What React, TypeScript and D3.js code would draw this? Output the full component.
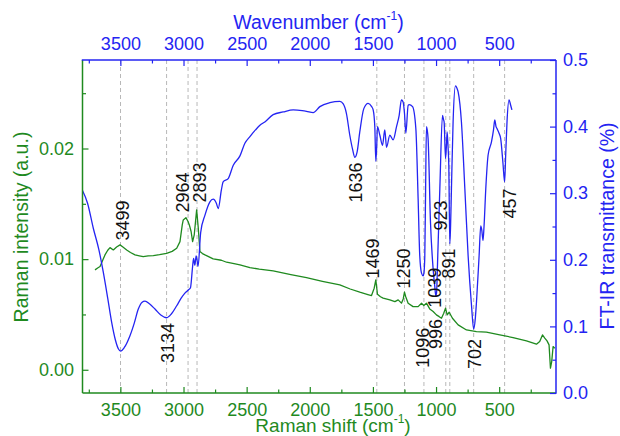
import React, { useEffect, useRef } from 'react';
import * as d3 from 'd3';

// FT-IR spectrum: [wavenumber (cm-1), transmittance]
const ftirSpectrum: [number, number][] = [
  [3800, 0.304], [3760, 0.285], [3714, 0.247], [3670, 0.215], [3635, 0.181], [3600, 0.142],
  [3569, 0.106], [3540, 0.08], [3515, 0.066], [3499, 0.063], [3470, 0.068], [3424, 0.086],
  [3390, 0.105], [3358, 0.126], [3330, 0.136], [3305, 0.138], [3270, 0.134], [3226, 0.126],
  [3180, 0.117], [3134, 0.113], [3095, 0.119], [3054, 0.131], [3020, 0.142], [2989, 0.15],
  [2960, 0.155], [2945, 0.158], [2928, 0.19], [2920, 0.202], [2910, 0.192], [2900, 0.206],
  [2893, 0.2], [2885, 0.19], [2864, 0.241], [2830, 0.267], [2791, 0.287], [2765, 0.291],
  [2740, 0.285], [2725, 0.277], [2700, 0.305], [2686, 0.317], [2646, 0.322], [2606, 0.342],
  [2553, 0.356], [2514, 0.375], [2474, 0.385], [2430, 0.395], [2395, 0.402], [2356, 0.407],
  [2290, 0.418], [2211, 0.422], [2131, 0.425], [2060, 0.424], [2026, 0.423], [1973, 0.421],
  [1920, 0.43], [1841, 0.436], [1762, 0.438], [1735, 0.434], [1710, 0.42], [1683, 0.387],
  [1660, 0.365], [1643, 0.354], [1625, 0.362], [1604, 0.392], [1572, 0.427], [1538, 0.435],
  [1510, 0.43], [1498, 0.425], [1485, 0.4], [1477, 0.348], [1470, 0.37], [1464, 0.4],
  [1445, 0.387], [1424, 0.372], [1406, 0.395], [1392, 0.369], [1366, 0.387], [1340, 0.38],
  [1313, 0.4], [1292, 0.417], [1274, 0.44], [1261, 0.437], [1250, 0.42], [1239, 0.39],
  [1221, 0.432], [1213, 0.433], [1186, 0.43], [1160, 0.397], [1142, 0.292], [1129, 0.206],
  [1115, 0.18], [1102, 0.176], [1096, 0.18], [1089, 0.206], [1083, 0.3], [1076, 0.4],
  [1070, 0.395], [1063, 0.382], [1044, 0.256], [1023, 0.186], [1010, 0.16], [1002, 0.146],
  [996, 0.15], [988, 0.196], [970, 0.307], [949, 0.417], [940, 0.41], [936, 0.407],
  [925, 0.352], [918, 0.37], [912, 0.392], [905, 0.37], [899, 0.342], [891, 0.224],
  [885, 0.25], [878, 0.307], [865, 0.407], [846, 0.461], [835, 0.458], [825, 0.452],
  [799, 0.407], [772, 0.307], [746, 0.206], [719, 0.131], [702, 0.096], [690, 0.11],
  [680, 0.136], [659, 0.206], [646, 0.251], [638, 0.245], [628, 0.229], [620, 0.25],
  [606, 0.307], [588, 0.357], [561, 0.377], [545, 0.395], [535, 0.41], [525, 0.4],
  [517, 0.397], [501, 0.39], [488, 0.382], [470, 0.345], [457, 0.317], [448, 0.36],
  [438, 0.407], [422, 0.44], [409, 0.432], [399, 0.425],
];

// Raman spectrum: [Raman shift (cm-1), intensity (a.u.)]
const ramanSpectrum: [number, number][] = [
  [3701, 0.00903], [3680, 0.0092], [3661, 0.00933], [3640, 0.0099], [3622, 0.01038], [3600, 0.0108],
  [3582, 0.01104], [3556, 0.01083], [3530, 0.0111], [3503, 0.01129], [3480, 0.0111], [3450, 0.01083],
  [3420, 0.0106], [3384, 0.01038], [3350, 0.0103], [3319, 0.01023], [3280, 0.0103], [3239, 0.01032],
  [3190, 0.0104], [3134, 0.01053], [3090, 0.0107], [3054, 0.01099], [3028, 0.01158], [3010, 0.0131],
  [3002, 0.01354], [2981, 0.01375], [2964, 0.0134], [2954, 0.01309], [2940, 0.0125], [2928, 0.01158],
  [2915, 0.0122], [2910, 0.01279], [2896, 0.01445], [2883, 0.01279], [2870, 0.01068], [2850, 0.0105],
  [2830, 0.01038], [2765, 0.01002], [2700, 0.0099], [2659, 0.00972], [2600, 0.0096], [2553, 0.00948],
  [2474, 0.00923], [2400, 0.0091], [2290, 0.00894], [2150, 0.0086], [2026, 0.00833], [1900, 0.008],
  [1762, 0.00767], [1680, 0.0073], [1604, 0.00701], [1540, 0.0068], [1511, 0.00671], [1490, 0.00737],
  [1477, 0.00812], [1464, 0.00683], [1440, 0.0066], [1419, 0.00647], [1366, 0.00632], [1326, 0.00616],
  [1300, 0.00632], [1274, 0.00602], [1260, 0.0064], [1250, 0.00701], [1240, 0.0066], [1221, 0.00602],
  [1182, 0.00571], [1142, 0.00571], [1115, 0.00602], [1097, 0.0058], [1076, 0.00602], [1050, 0.0055],
  [1023, 0.00526], [997, 0.00496], [975, 0.0048], [957, 0.00466], [939, 0.00511], [925, 0.00557],
  [912, 0.00496], [896, 0.0052], [870, 0.00466], [825, 0.00406], [759, 0.0036], [680, 0.00345],
  [601, 0.0034], [495, 0.00315], [390, 0.00291], [284, 0.00261], [205, 0.00231], [179, 0.00255],
  [157, 0.00315], [139, 0.00286], [121, 0.00261], [105, 0.00225], [94, 0.00014], [84, 0.00074],
  [73, 0.0021], [60, 0.00195],
];

const peakPositions = [3499, 3134, 2964, 2893, 1636, 1469, 1250, 1096, 1039, 996, 923, 891, 702, 457];
const peakNames = ['3499', '3134', '2964', '2893', '1636', '1469', '1250', '1096', '1039', '996', '923', '891', '702', '457'];
// where each label starts, in transmittance units
const peakLabelLevels = [0.229, 0.045, 0.271, 0.286, 0.286, 0.172, 0.157, 0.038, 0.128, 0.066, 0.244, 0.172, 0.036, 0.262];
const guidePositions = [3499, 3134, 2964, 2893, 1469, 1250, 1096, 923, 891, 702, 457];

const wavenumberTicks = [3500, 3000, 2500, 2000, 1500, 1000, 500];
const wavenumberMinorTicks = [3750, 3250, 2750, 2250, 1750, 1250, 750, 250];
const ramanTicks = [0, 0.01, 0.02];
const ramanMinorTicks = [0.005, 0.015, 0.025];
const ftirTicks = [0, 0.1, 0.2, 0.3, 0.4, 0.5];
const ftirMinorTicks = [0.05, 0.15, 0.25, 0.35, 0.45];

const GREEN = '#1f8a1f';
const BLUE = '#2424f2';
const FONT = '"Liberation Sans", Arial, Helvetica, sans-serif';

const width = 620;
const height = 436;
const frame = { left: 82.5, right: 556, top: 60, bottom: 393 };

// small horizontal nudges so labels sit like the original (px)
const labelShift = [2, 1, -6, 2.5, 0, -4, -1, -1, 3, -1, -5.5, -1, 1, 4.5];

const App: React.FC = () => {
  const svgRef = useRef<SVGSVGElement>(null);

  const x = d3.scaleLinear().domain([3800, 50]).range([frame.left, frame.right]);
  const yRaman = d3.scaleLinear().domain([-0.0021, 0.028]).range([frame.bottom, frame.top]);
  const yFtir = d3.scaleLinear().domain([0, 0.5]).range([frame.bottom, frame.top]);

  useEffect(() => {
    if (!svgRef.current) return;
    const svg = d3.select(svgRef.current);
    svg.selectAll('g.axis').remove();

    const addAxis = (axis: d3.Axis<d3.NumberValue>, transform: string, color: string) => {
      const g = svg.append('g').attr('class', 'axis').attr('transform', transform) as any;
      g.call(axis);
      g.select('.domain').remove();
      g.selectAll('line').attr('stroke', color).attr('stroke-width', 1.2);
      g.selectAll('text').attr('fill', color).style('font-size', '18px').style('font-family', FONT);
    };

    // bottom: Raman shift
    addAxis(d3.axisBottom(x).tickValues(wavenumberTicks).tickSize(-6).tickPadding(10).tickFormat(d3.format('d')), `translate(0,${frame.bottom})`, GREEN);
    addAxis(d3.axisBottom(x).tickValues(wavenumberMinorTicks).tickSize(-3.5).tickFormat(() => ''), `translate(0,${frame.bottom})`, GREEN);
    // top: wavenumber
    addAxis(d3.axisTop(x).tickValues(wavenumberTicks).tickSize(-6).tickPadding(10).tickFormat(d3.format('d')), `translate(0,${frame.top})`, BLUE);
    addAxis(d3.axisTop(x).tickValues(wavenumberMinorTicks).tickSize(-3.5).tickFormat(() => ''), `translate(0,${frame.top})`, BLUE);
    // left: Raman intensity
    addAxis(d3.axisLeft(yRaman).tickValues(ramanTicks).tickSize(-6).tickPadding(8.5).tickFormat(d3.format('.2f')), `translate(${frame.left},0)`, GREEN);
    addAxis(d3.axisLeft(yRaman).tickValues(ramanMinorTicks).tickSize(-3.5).tickFormat(() => ''), `translate(${frame.left},0)`, GREEN);
    // right: FT-IR transmittance
    addAxis(d3.axisRight(yFtir).tickValues(ftirTicks).tickSize(-6).tickPadding(7).tickFormat(d3.format('.1f')), `translate(${frame.right},0)`, BLUE);
    addAxis(d3.axisRight(yFtir).tickValues(ftirMinorTicks).tickSize(-3.5).tickFormat(() => ''), `translate(${frame.right},0)`, BLUE);
  }, []);

  const ftirLine = d3.line<[number, number]>()
    .x(d => x(d[0]))
    .y(d => yFtir(d[1]))
    .curve(d3.curveMonotoneX);

  const ramanLine = d3.line<[number, number]>()
    .x(d => x(d[0]))
    .y(d => yRaman(d[1]));

  const withSup = (main: string, size: number) => (
    <>
      {main}
      <tspan fontSize={12} dy={-9}>-1</tspan>
      <tspan fontSize={size} dy={9}>)</tspan>
    </>
  );

  return (
    <svg
      ref={svgRef}
      width={width}
      height={height}
      style={{ position: 'absolute', left: 0, top: 0, background: '#fff', fontFamily: FONT }}
    >
      <rect width={width} height={height} fill="#fff" />

      {guidePositions.map(p => (
        <line
          key={p}
          x1={x(p)} x2={x(p)} y1={frame.top} y2={frame.bottom}
          stroke="#b8b8b8" strokeWidth={1} strokeDasharray="4,3"
        />
      ))}

      <path d={ramanLine(ramanSpectrum) ?? ''} fill="none" stroke={GREEN} strokeWidth={1.3} strokeLinejoin="round" />
      <path d={ftirLine(ftirSpectrum) ?? ''} fill="none" stroke={BLUE} strokeWidth={1.3} />

      {peakPositions.map((p, i) => (
        <text
          key={p}
          transform={`translate(${x(p) + labelShift[i] + 6.5},${yFtir(peakLabelLevels[i])}) rotate(-90)`}
          fontSize={18}
          fill="#111"
        >
          {peakNames[i]}
        </text>
      ))}

      {/* frame */}
      <line x1={frame.left} x2={frame.left} y1={frame.top} y2={frame.bottom} stroke={GREEN} strokeWidth={1.5} />
      <line x1={frame.left} x2={frame.right} y1={frame.bottom} y2={frame.bottom} stroke={GREEN} strokeWidth={1.5} />
      <line x1={frame.left - 0.7} x2={frame.right} y1={frame.top} y2={frame.top} stroke={BLUE} strokeWidth={1.5} />
      <line x1={frame.right} x2={frame.right} y1={frame.top} y2={frame.bottom + 0.7} stroke={BLUE} strokeWidth={1.5} />

      <text x={318.5} y={28.5} textAnchor="middle" fontSize={19.5} fill={BLUE}>
        {withSup('Wavenumber (cm', 19.5)}
      </text>
      <text x={333} y={431.5} textAnchor="middle" fontSize={19} fill={GREEN}>
        {withSup('Raman shift (cm', 19)}
      </text>
      <text transform="translate(27.5,227) rotate(-90)" textAnchor="middle" fontSize={19.5} fill={GREEN}>
        Raman intensity (a.u.)
      </text>
      <text transform="translate(614,226) rotate(-90)" textAnchor="middle" fontSize={19.5} fill={BLUE}>
        FT-IR transmittance (%)
      </text>
    </svg>
  );
};

export default App;
